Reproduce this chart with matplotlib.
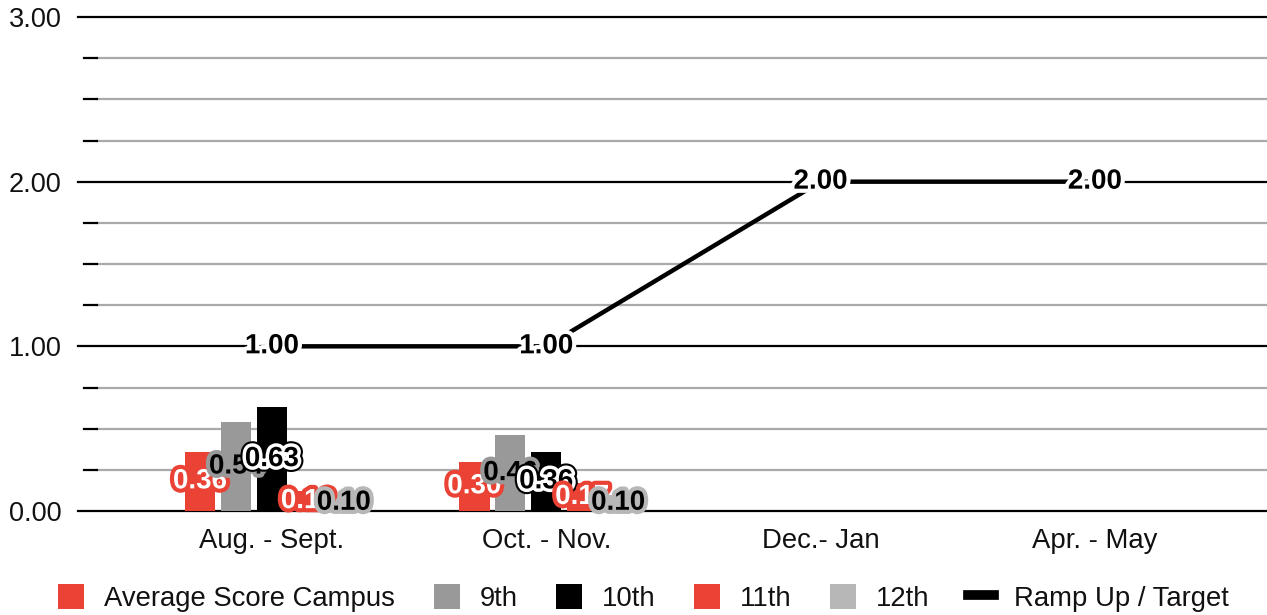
import matplotlib
matplotlib.use("Agg")
import matplotlib.pyplot as plt
import matplotlib.patheffects as pe
from matplotlib.patches import Patch
from matplotlib.lines import Line2D
import numpy as np

plt.rcParams['font.family'] = ['Liberation Sans', 'DejaVu Sans']

categories = ["Aug. - Sept.", "Oct. - Nov.", "Dec.- Jan", "Apr. - May"]
series_names = ["Average Score Campus", "9th", "10th", "11th", "12th"]
avg_campus = [0.36, 0.30]
grade_9 = [0.54, 0.46]
grade_10 = [0.63, 0.36]
grade_11 = [0.12, 0.17]
grade_12 = [0.10, 0.10]
ramp_target = [1.00, 1.00, 2.00, 2.00]
ramp_name = "Ramp Up / Target"
y_ticks = [0, 1, 2, 3]
y_tick_labels = ["0.00", "1.00", "2.00", "3.00"]

RED = "#ea4335"
colors = [RED, "#999999", "#000000", RED, "#b7b7b7"]

W, H = 1267, 615
fig = plt.figure(figsize=(W / 100, H / 100), dpi=100)
ax = fig.add_axes([78 / W, 1 - 511 / H, (W - 78) / W, (511 - 17) / H])
ax.set_ylim(0, 3)
ax.set_xlim(-0.707, 3.627)
for s in ax.spines.values():
    s.set_visible(False)

# grid
for v in np.arange(0.25, 3.0, 0.25):
    if abs(v - round(v)) < 1e-9:
        continue
    ax.axhline(v, xmin=0.016, xmax=1, color="#aaaaaa", lw=1.6, zorder=0)
    ax.axhline(v, xmin=0.005, xmax=0.016, color="#000000", lw=1.6, zorder=0)
for v in y_ticks:
    ax.axhline(v, color="#000000", lw=1.6, zorder=0.5, clip_on=False)

ax.set_yticks(y_ticks)
ax.set_yticklabels(y_tick_labels, fontsize=19.5, color="#111111")
ax.tick_params(axis="y", length=0, pad=12)
ax.set_xticks(range(len(categories)))
ax.set_xticklabels(categories, fontsize=19.8, color="#111111")
ax.tick_params(axis="x", length=0, pad=12)

series = [avg_campus, grade_9, grade_10, grade_11, grade_12]
bw = 0.11
step = 0.131
label_styles = [
    ("white", [pe.withStroke(linewidth=6, foreground=RED)]),
    ("black", [pe.withStroke(linewidth=6, foreground="#999999")]),
    ("black", [pe.withStroke(linewidth=8, foreground="black"), pe.withStroke(linewidth=5, foreground="white")]),
    ("white", [pe.withStroke(linewidth=6, foreground=RED)]),
    ("black", [pe.withStroke(linewidth=6, foreground="#b7b7b7")]),
]
for i, (vals, c) in enumerate(zip(series, colors)):
    x = np.arange(len(vals)) + (i - 2) * step
    ax.bar(x, vals, width=bw, color=c, zorder=2)
for i, vals in enumerate(series):
    x = np.arange(len(vals)) + (i - 2) * step
    tc, eff = label_styles[i]
    for xi, v in zip(x, vals):
        ax.text(xi, v / 2, f"{v:.2f}", ha="center", va="center", fontsize=20,
                fontweight="bold", color=tc, path_effects=eff, zorder=5 + i, clip_on=False)

xr = np.arange(len(ramp_target))
ax.plot(xr, ramp_target, color="black", lw=3.2, zorder=3, solid_capstyle="butt")
for xi, v in zip(xr, ramp_target):
    ax.text(xi, v, f"{v:.2f}", ha="center", va="center", fontsize=20, fontweight="bold",
            color="black", path_effects=[pe.withStroke(linewidth=6, foreground="white")], zorder=12)

handles = [Patch(facecolor=c, edgecolor="none") for c in colors]
handles.append(Line2D([0], [0], color="black", lw=7))
labels = series_names + [ramp_name]
fig.legend(handles, labels, loc="center", bbox_to_anchor=(0.5 + 10 / W, 1 - 598 / H), ncol=6,
           frameon=False, fontsize=19.8, handlelength=0.95, handleheight=1.0,
           handletextpad=0.72, columnspacing=1.4, labelcolor="#111111")

fig.savefig("out.png", dpi=100)
